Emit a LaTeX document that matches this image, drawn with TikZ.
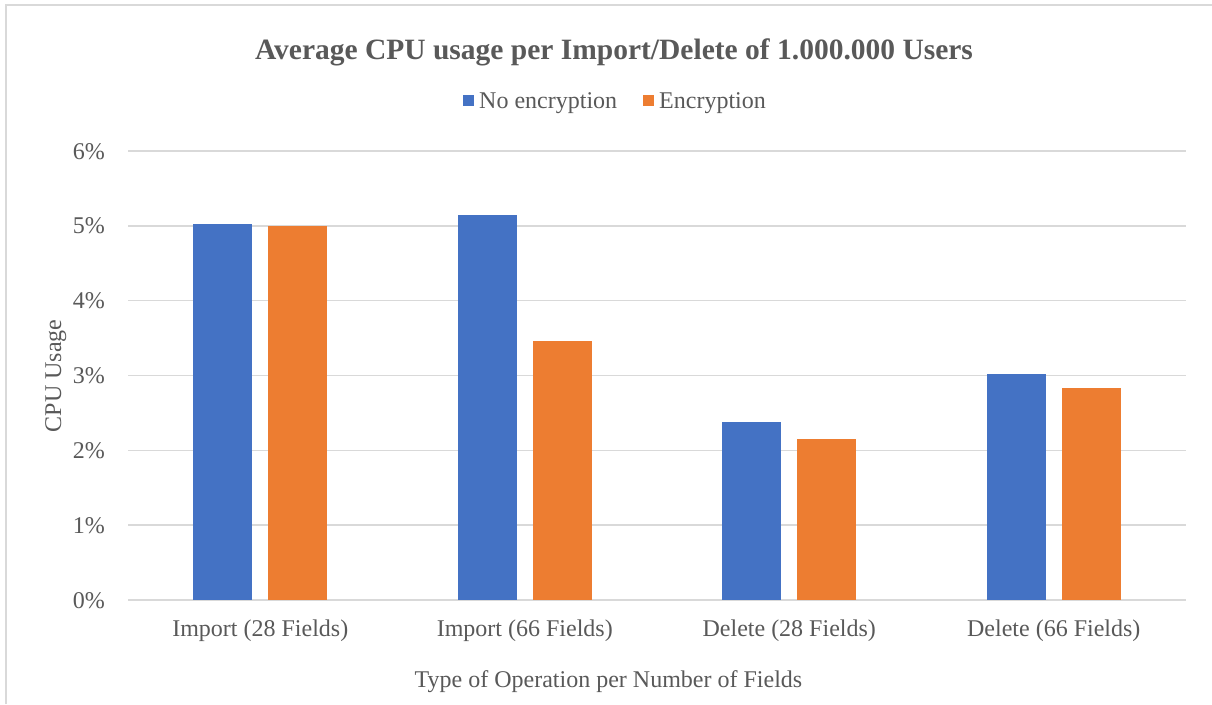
\documentclass[tikz,border=0pt]{standalone}
\usepackage{fontspec}
\setmainfont{Liberation Serif}
\definecolor{txtgray}{HTML}{595959}
\definecolor{gridgray}{HTML}{D9D9D9}
\definecolor{barblue}{HTML}{4472C4}
\definecolor{barorange}{HTML}{ED7D31}
\begin{document}
\begin{tikzpicture}[x=1pt,y=-1pt,
  lbl/.style={text=txtgray,font=\fontsize{24}{28}\selectfont,inner sep=0pt},
  ttl/.style={text=txtgray,font=\fontsize{29.5}{34}\selectfont\bfseries,inner sep=0pt},
  grid line/.style={draw=gridgray,line width=1.5pt},
  frame line/.style={draw=gridgray,line width=2pt}]
\useasboundingbox (0,0) rectangle (1212,704);
\fill[white] (0,0) rectangle (1212,704);
% chart area frame
\coordinate (frameBL) at (6,704);
\coordinate (frameTL) at (6,5);
\coordinate (frameTR) at (1212,5);
\draw[frame line] (frameBL) -- (frameTL) -- (frameTR);
% horizontal gridlines and value labels
\foreach \v in {0,...,6}{
  \pgfmathsetmacro\yy{600-74.83*\v}
  \coordinate (gl\v) at (128,\yy);
  \coordinate (gr\v) at (1186,\yy);
  \draw[grid line] (gl\v) -- (gr\v);
  \node[lbl,anchor=base east] (tick\v) at (105,\yy+8) {\v\%};
}
% bars and category labels
\foreach \i/\a/\b/\name in {1/5.03/5.00/Import (28 Fields),
                            2/5.15/3.46/Import (66 Fields),
                            3/2.38/2.15/Delete (28 Fields),
                            4/3.02/2.83/Delete (66 Fields)}{
  \pgfmathsetmacro\cx{128+264.5*(\i-0.5)}
  \fill[barblue] (\cx-67,600) rectangle (\cx-8,600-74.83*\a);
  \fill[barorange] (\cx+8,600) rectangle (\cx+67,600-74.83*\b);
  \node[lbl,anchor=base] (cat\i) at (\cx,636) {\name};
}
% title
\node[ttl,anchor=base] (title) at (614,59) {Average CPU usage per Import/Delete of 1.000.000 Users};
% legend
\fill[barblue] (463,95) rectangle (474,106);
\node[lbl,anchor=base west] (legNo) at (479,108) {No encryption};
\fill[barorange] (643,95) rectangle (654,106);
\node[lbl,anchor=base west] (legYes) at (659,108) {Encryption};
% axis titles
\node[lbl,rotate=90,anchor=base] (ytitle) at (61,376) {CPU Usage};
\node[lbl,anchor=base] (xtitle) at (608.5,687) {Type of Operation per Number of Fields};
\end{tikzpicture}
\end{document}
